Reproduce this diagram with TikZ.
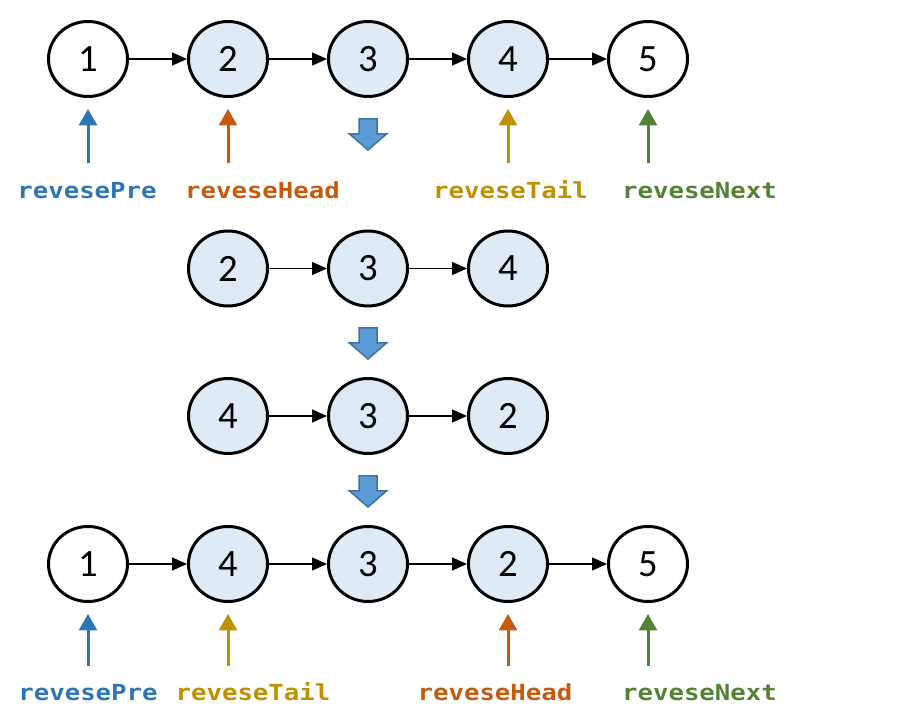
\documentclass[tikz,border=0pt]{standalone}
\usepackage{fontspec}
\setmainfont{Carlito}
\newfontfamily\ptrfont[FakeStretch=1.16]{DejaVu Sans Mono}
\usepackage{tikz}
\usetikzlibrary{shapes.geometric,arrows.meta,positioning}
\definecolor{listfill}{HTML}{DEEBF7}
\definecolor{ptrblue}{HTML}{2E75B6}
\definecolor{ptrorange}{HTML}{C55A11}
\definecolor{ptrgold}{HTML}{BF9000}
\definecolor{ptrgreen}{HTML}{548235}
\definecolor{arrowfill}{HTML}{5B9BD5}
\definecolor{arrowdraw}{HTML}{41719C}
\tikzstyle{plainnode} = [ellipse, draw=black, line width=0.06cm, fill=white,
    minimum width=1.58cm, minimum height=1.5cm, inner sep=0pt, font=\fontsize{22}{24}\selectfont]
\tikzstyle{listnode} = [plainnode, fill=listfill]
\tikzstyle{link} = [-{Triangle[length=0.3cm,width=0.26cm]}, line width=0.028cm]
\tikzstyle{pointer} = [-{Triangle[length=0.33cm,width=0.36cm]}, line width=0.06cm, shorten >=0.22cm]
\tikzstyle{ptrlabel} = [anchor=base, inner sep=0pt, font=\ptrfont\bfseries\fontsize{12.6}{14}\selectfont]
\tikzstyle{bigdown} = [fill=arrowfill, draw=arrowdraw, line width=0.03cm, line join=miter]

\begin{document}
\begin{tikzpicture}[node distance=1.16cm]
\useasboundingbox (0,0) rectangle (18.32,-14.44);

% list before the reversal
\node[plainnode] (a1) at (1.76,-1.18) {1};
\node[listnode, right=of a1] (a2) {2};
\node[listnode, right=of a2] (a3) {3};
\node[listnode, right=of a3] (a4) {4};
\node[plainnode, right=of a4] (a5) {5};

\draw[link] (a1) -- (a2);
\draw[link] (a2) -- (a3);
\draw[link] (a3) -- (a4);
\draw[link] (a4) -- (a5);

\coordinate[below=1.3cm of a1] (pa1);
\coordinate[below=1.3cm of a2] (pa2);
\coordinate[below=1.3cm of a4] (pa4);
\coordinate[below=1.3cm of a5] (pa5);
\draw[pointer, ptrblue] (pa1) -- (a1);
\draw[pointer, ptrorange] (pa2) -- (a2);
\draw[pointer, ptrgold] (pa4) -- (a4);
\draw[pointer, ptrgreen] (pa5) -- (a5);

\node[ptrlabel, ptrblue] (la1) at (1.74,-3.97) {revesePre};
\node[ptrlabel, ptrorange] (la2) at (5.25,-3.97) {reveseHead};
\node[ptrlabel, ptrgold] (la4) at (10.21,-3.97) {reveseTail};
\node[ptrlabel, ptrgreen] (la5) at (13.99,-3.97) {reveseNext};

\draw[bigdown] (7.18,-2.38) -- (7.54,-2.38) -- (7.54,-2.68) -- (7.73,-2.68) -- (7.36,-3.0) -- (6.99,-2.68) -- (7.18,-2.68) -- cycle;

% cut out part
\node[listnode] (b1) at (4.56,-5.37) {2};
\node[listnode, right=of b1] (b2) {3};
\node[listnode, right=of b2] (b3) {4};
\draw[link] (b1) -- (b2);
\draw[link] (b2) -- (b3);

\draw[bigdown] (7.18,-6.56) -- (7.54,-6.56) -- (7.54,-6.86) -- (7.73,-6.86) -- (7.36,-7.18) -- (6.99,-6.86) -- (7.18,-6.86) -- cycle;

% reversed part
\node[listnode] (c1) at (4.56,-8.32) {4};
\node[listnode, right=of c1] (c2) {3};
\node[listnode, right=of c2] (c3) {2};
\draw[link] (c1) -- (c2);
\draw[link] (c2) -- (c3);

\draw[bigdown] (7.18,-9.52) -- (7.54,-9.52) -- (7.54,-9.82) -- (7.73,-9.82) -- (7.36,-10.14) -- (6.99,-9.82) -- (7.18,-9.82) -- cycle;

% list after the reversal
\node[plainnode] (d1) at (1.76,-11.28) {1};
\node[listnode, right=of d1] (d2) {4};
\node[listnode, right=of d2] (d3) {3};
\node[listnode, right=of d3] (d4) {2};
\node[plainnode, right=of d4] (d5) {5};

\draw[link] (d1) -- (d2);
\draw[link] (d2) -- (d3);
\draw[link] (d3) -- (d4);
\draw[link] (d4) -- (d5);

\coordinate[below=1.26cm of d1] (pd1);
\coordinate[below=1.26cm of d2] (pd2);
\coordinate[below=1.26cm of d4] (pd4);
\coordinate[below=1.26cm of d5] (pd5);
\draw[pointer, ptrblue] (pd1) -- (d1);
\draw[pointer, ptrgold] (pd2) -- (d2);
\draw[pointer, ptrorange] (pd4) -- (d4);
\draw[pointer, ptrgreen] (pd5) -- (d5);

\node[ptrlabel, ptrblue] (ld1) at (1.76,-14.02) {revesePre};
\node[ptrlabel, ptrgold] (ld2) at (5.06,-14.02) {reveseTail};
\node[ptrlabel, ptrorange] (ld4) at (9.9,-14.02) {reveseHead};
\node[ptrlabel, ptrgreen] (ld5) at (13.99,-14.02) {reveseNext};
\end{tikzpicture}
\end{document}
